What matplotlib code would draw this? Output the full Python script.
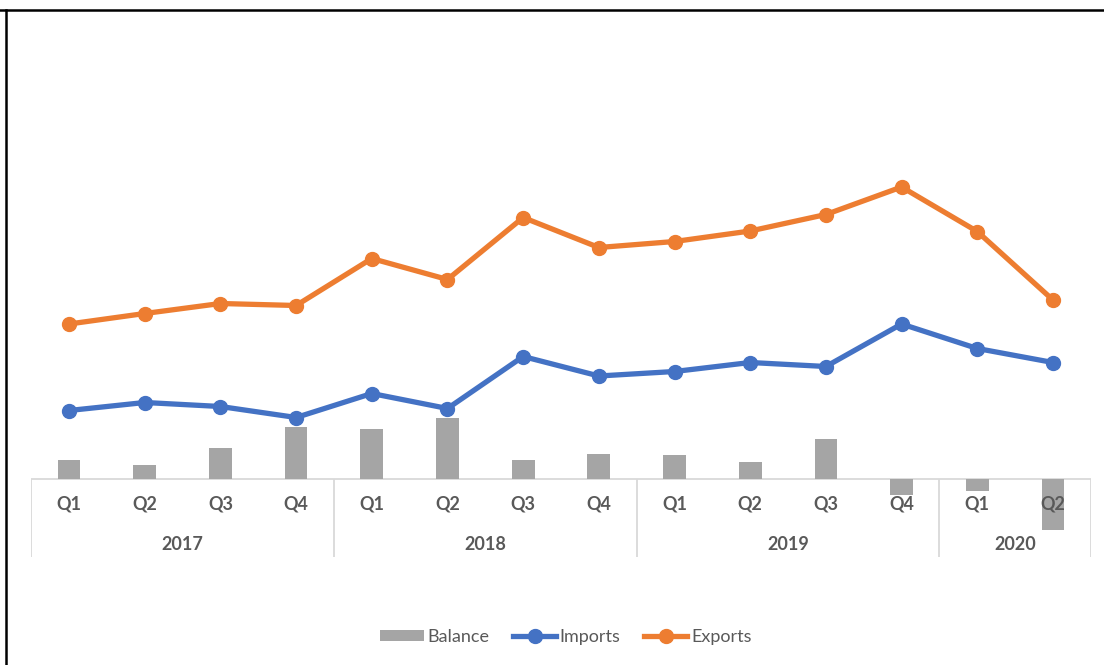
import matplotlib
matplotlib.use("Agg")
import matplotlib.pyplot as plt
from matplotlib.lines import Line2D
from matplotlib.patches import Patch

# Quarterly trade figures
years = ["2017", "2018", "2019", "2020"]
quarters_per_year = [4, 4, 4, 2]
quarter_labels = ["Q1", "Q2", "Q3", "Q4", "Q1", "Q2", "Q3", "Q4",
                  "Q1", "Q2", "Q3", "Q4", "Q1", "Q2"]
exports = [31.0, 33.1, 35.1, 34.7, 44.1, 39.9, 52.3, 46.3, 47.5, 49.6, 52.9, 58.4, 49.5, 35.8]
imports = [13.7, 15.3, 14.5, 12.3, 17.1, 14.1, 24.5, 20.6, 21.5, 23.3, 22.5, 31.0, 26.1, 23.3]
balance = [3.9, 2.8, 6.3, 10.5, 10.1, 12.2, 3.8, 5.0, 4.8, 3.5, 8.1, -3.2, -2.3, -10.2]

W, H, DPI = 1104, 665, 100
fig = plt.figure(figsize=(W / DPI, H / DPI), dpi=DPI)
fig.patch.set_facecolor("white")

# axes spans from the plot top down to the bottom of the category dividers
x_left, x_right = 31.2, 1090.8
y_top, y_bot = 130, 557
ax = fig.add_axes([x_left / W, 1 - y_bot / H, (x_right - x_left) / W, (y_bot - y_top) / H])
ax.set_facecolor("none")
for s in ax.spines.values():
    s.set_visible(False)
ax.set_xticks([])
ax.set_yticks([])

px_per_unit = 5.0
zero_y = 479
ax.set_ylim(-(y_bot - zero_y) / px_per_unit, (zero_y - y_top) / px_per_unit)
n = len(quarter_labels)
ax.set_xlim(-0.5, n - 0.5)
x = list(range(n))

grid_col = "#d9d9d9"
text_col = "#595959"

ax.bar(x, balance, width=0.3, color="#a5a5a5", zorder=2)
ax.plot(x, imports, color="#4472c4", lw=3.8, marker="o", ms=10, zorder=3)
ax.plot(x, exports, color="#ed7d31", lw=3.8, marker="o", ms=10, zorder=3)

# category axis: baseline and year dividers
ymin = ax.get_ylim()[0]
ax.axhline(0, color=grid_col, lw=1.3, zorder=1)
bounds = [-0.5]
for q in quarters_per_year:
    bounds.append(bounds[-1] + q)
ax.vlines(bounds, ymin, 0, color=grid_col, lw=1.3, zorder=1)

q_y = -(504 - zero_y) / px_per_unit
yr_y = -(545 - zero_y) / px_per_unit
for xi, lab in zip(x, quarter_labels):
    ax.text(xi, q_y, lab, ha="center", va="center", fontsize=13,
            family="Lato", weight="bold", color=text_col, zorder=4)
for i, yr in enumerate(years):
    ax.text((bounds[i] + bounds[i + 1]) / 2, yr_y, yr, ha="center", va="center",
            fontsize=13, family="Lato", weight="bold", color=text_col, zorder=4)

handles = [
    Patch(facecolor="#a5a5a5", edgecolor="none", label="Balance"),
    Line2D([], [], color="#4472c4", lw=3.8, marker="o", ms=10, label="Imports"),
    Line2D([], [], color="#ed7d31", lw=3.8, marker="o", ms=10, label="Exports"),
]
leg = fig.legend(handles=handles, loc="center", bbox_to_anchor=(566 / W, 1 - 637 / H),
                 ncol=3, frameon=False, prop={"family": "Lato", "size": 13},
                 handlelength=2.4, handleheight=0.55, columnspacing=1.3, handletextpad=0.2)
for t in leg.get_texts():
    t.set_color(text_col)

# outer frame: top and left edges
fig.add_artist(Line2D([0, 1], [1 - 9.5 / H, 1 - 9.5 / H], color="black", lw=1.8,
                      transform=fig.transFigure))
fig.add_artist(Line2D([6 / W, 6 / W], [0, 1 - 9.5 / H], color="black", lw=1.8,
                      transform=fig.transFigure))

fig.savefig("out.png", dpi=DPI, facecolor="white")
